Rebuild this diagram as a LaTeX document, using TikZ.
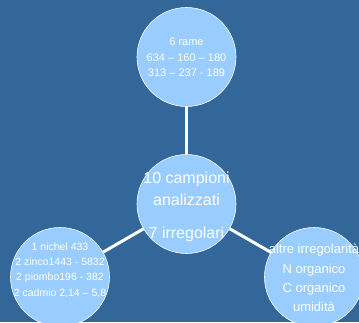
\documentclass[tikz,border=0pt]{standalone}
\usepackage{fontspec}
\setmainfont{Liberation Sans}
\definecolor{sfondo}{HTML}{336699}
\definecolor{disco}{HTML}{99CCFF}
\newcommand*{\Raggio}{49.5pt}
\begin{document}
\begin{tikzpicture}[x=1pt, y=-1pt,
    disc/.style={circle, fill=disco, draw=white, line width=0.6pt,
      minimum size=2*\Raggio, inner sep=0pt},
    legame/.style={draw=white, line width=3pt},
    testo/.style={text=white, align=center, inner sep=0pt}]
    % sfondo
    \fill[sfondo] (0,0) rectangle (359,322);
    \useasboundingbox (0,0) rectangle (359,322);

    % i quattro dischi
    \node[disc] (rame)     at (186.5,57)  {};
    \node[disc] (campioni) at (186.5,204) {};
    \node[disc] (metalli)  at (60,277)    {};
    \node[disc] (altre)    at (314,277)   {};

    % legami
    \draw[legame] (rame) -- (campioni);
    \draw[legame] (campioni) -- (metalli);
    \draw[legame] (campioni) -- (altre);

    % testi
    \node[testo, font=\fontsize{11}{15.5}\selectfont] (t-rame) at ([yshift=-0.5pt]rame)
      {6 rame\\634 -- 160 -- 180\\313 -- 237 - 189};
    \node[testo, font=\fontsize{16}{22}\selectfont] (t-campioni) at ([yshift=-3pt]campioni)
      {10 campioni\\analizzati\\[11pt]7 irregolari};
    \node[testo, font=\fontsize{10.5}{15.3}\selectfont] (t-metalli) at ([yshift=7pt]metalli)
      {1 nichel 433\\2 zinco1443 - 5832\\2 piombo196 - 382\\2 cadmio 2,14 -- 5,8};
    \node[testo, font=\fontsize{13}{19.3}\selectfont] (t-altre) at ([yshift=-1pt]altre)
      {altre irregolarità\\N organico\\C organico\\umidità};
\end{tikzpicture}
\end{document}
